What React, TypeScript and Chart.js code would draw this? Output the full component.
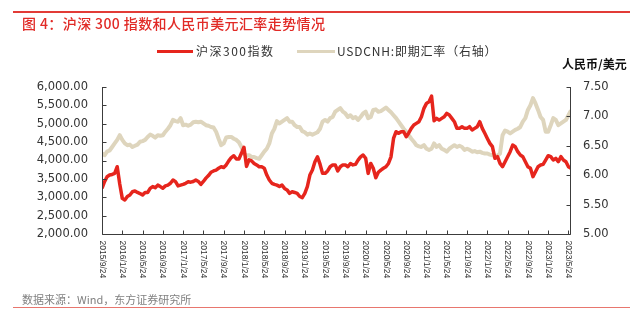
import React, { useEffect, useRef } from "react";
import { Chart, registerables } from "chart.js";
Chart.register(...registerables);

// x positions are months since 2015/9/24, one value every half month
const xTickLabels = [
  "2015/9/24", "2016/1/24", "2016/5/24", "2016/9/24", "2017/1/24", "2017/5/24",
  "2017/9/24", "2018/1/24", "2018/5/24", "2018/9/24", "2019/1/24", "2019/5/24",
  "2019/9/24", "2020/1/24", "2020/5/24", "2020/9/24", "2021/1/24", "2021/5/24",
  "2021/9/24", "2022/1/24", "2022/5/24", "2022/9/24", "2023/1/24", "2023/5/24",
];

const csi300 = [
  3243, 3424, 3560, 3605, 3620, 3650, 3830, 3360, 2970, 2925,
  3020, 3060, 3150, 3170, 3130, 3100, 3060, 3130, 3130, 3240,
  3290, 3260, 3330, 3290, 3245, 3310, 3330, 3380, 3470, 3424,
  3310, 3330, 3350, 3380, 3420, 3410, 3430, 3470, 3430, 3350,
  3430, 3520, 3590, 3680, 3715, 3740, 3790, 3830, 3810, 3880,
  3990, 4080, 4130, 4040, 4040, 4195, 4360, 3840, 4020, 3990,
  3920, 3880, 3830, 3830, 3790, 3605, 3470, 3380, 3350, 3330,
  3290, 3330, 3240, 3200, 3105, 3150, 3130, 3105, 3020, 2990,
  3105, 3290, 3605, 3740, 3965, 4100, 3900, 3650, 3650, 3715,
  3830, 3880, 3880, 3715, 3830, 3880, 3880, 3830, 3920, 3880,
  3895, 4010, 4100, 4150, 4060, 3650, 3920, 3790, 3530, 3680,
  3740, 3790, 3830, 3920, 4100, 4600, 4784, 4740, 4784, 4784,
  4648, 4750, 4875, 4966, 5011, 5056, 5192, 5419, 5555, 5600,
  5750, 5080, 5147, 5100, 5147, 5192, 5283, 5238, 5147, 5056,
  4875, 4875, 4920, 4875, 4875, 4920, 4830, 4875, 4920, 5056,
  4875, 4740, 4600, 4467, 4376, 4059, 4104, 3923, 3832, 3968,
  4104, 4240, 4421, 4376, 4240, 4150, 4104, 3968, 3832, 3787,
  3560, 3696, 3832, 3877, 3895, 4013, 4131, 4104, 4013, 4059,
  3968, 4104, 4013, 3968, 3832, 3787,
];

const usdcnh = [
  6.37, 6.34, 6.40, 6.42, 6.48, 6.54, 6.60, 6.68, 6.60, 6.54,
  6.51, 6.52, 6.48, 6.50, 6.52, 6.57, 6.58, 6.60, 6.65, 6.69,
  6.67, 6.64, 6.68, 6.67, 6.68, 6.74, 6.79, 6.85, 6.94, 6.92,
  6.91, 6.97, 6.85, 6.86, 6.84, 6.86, 6.90, 6.91, 6.90, 6.91,
  6.88, 6.85, 6.84, 6.82, 6.81, 6.74, 6.62, 6.51, 6.54, 6.64,
  6.65, 6.65, 6.62, 6.60, 6.56, 6.48, 6.37, 6.33, 6.34, 6.31,
  6.31, 6.29, 6.28, 6.34, 6.40, 6.45, 6.54, 6.71, 6.79, 6.92,
  6.88, 6.91, 6.94, 6.97, 6.91, 6.91, 6.85, 6.82, 6.82, 6.75,
  6.73, 6.69, 6.71, 6.69, 6.71, 6.73, 6.79, 6.91, 6.94, 6.91,
  6.97, 6.99, 7.08, 7.11, 7.14, 7.08, 7.05, 6.99, 7.02, 6.97,
  6.99, 6.94, 6.99, 7.05, 7.08, 6.97, 6.99, 7.11, 7.12, 7.08,
  7.09, 7.12, 7.15, 7.11, 7.07, 7.02, 6.97, 6.91, 6.85, 6.79,
  6.74, 6.68, 6.62, 6.57, 6.51, 6.49, 6.48, 6.51, 6.45, 6.43,
  6.45, 6.54, 6.48, 6.51, 6.45, 6.43, 6.40, 6.45, 6.48, 6.51,
  6.48, 6.50, 6.48, 6.43, 6.45, 6.43, 6.40, 6.41, 6.39, 6.40,
  6.38, 6.37, 6.37, 6.35, 6.34, 6.33, 6.33, 6.37, 6.68, 6.76,
  6.74, 6.71, 6.74, 6.77, 6.79, 6.82, 6.91, 6.97, 7.11, 7.19,
  7.31, 7.22, 7.11, 6.99, 6.94, 6.74, 6.74, 6.85, 6.97, 6.94,
  6.85, 6.88, 6.91, 6.94, 7.02, 7.10,
];

const seriesNames = ["沪深300指数", "USDCNH:即期汇率（右轴）"];
const titleText = "图 4：沪深 300 指数和人民币美元汇率走势情况";
const sourceText = "数据来源：Wind，东方证券研究所";
const rightUnit = "人民币/美元";

const RED = "#e6251d";
const TAN = "#ded5bd";
const AXIS = "#3c3c3c";

const axesPlugin = {
  id: "customAxes",
  afterDraw(chart: any) {
    const { ctx, chartArea } = chart;
    const xs = chart.scales.x;
    const yl = chart.scales.y;
    const yr = chart.scales.y1;
    const L = Math.round(chartArea.left) + 0.5;
    const R = Math.round(chartArea.right) - 0.5;
    const B = Math.round(chartArea.bottom) + 0.5;
    const T = Math.round(chartArea.top);
    ctx.save();
    ctx.strokeStyle = AXIS;
    ctx.lineWidth = 1;
    ctx.beginPath();
    ctx.moveTo(L, T);
    ctx.lineTo(L, B);
    ctx.lineTo(R, B);
    ctx.lineTo(R, T);
    yl.ticks.forEach((t: any) => {
      const y = Math.round(yl.getPixelForValue(t.value)) + 0.5;
      ctx.moveTo(L, y);
      ctx.lineTo(L + 4, y);
    });
    yr.ticks.forEach((t: any) => {
      const y = Math.round(yr.getPixelForValue(t.value)) + 0.5;
      ctx.moveTo(R, y);
      ctx.lineTo(R - 4, y);
    });
    xTickLabels.forEach((_, i) => {
      const x = Math.round(xs.getPixelForValue(i * 4)) + 0.5;
      ctx.moveTo(x, B);
      ctx.lineTo(x, B - 4);
    });
    ctx.stroke();

    ctx.fillStyle = "#333";
    ctx.font = '8.5px "Liberation Sans", Arial, sans-serif';
    ctx.textAlign = "left";
    ctx.textBaseline = "middle";
    xTickLabels.forEach((lab, i) => {
      const x = xs.getPixelForValue(i * 4);
      ctx.save();
      ctx.translate(x, B + 6);
      ctx.rotate(Math.PI / 2);
      ctx.fillText(lab, 0, 0);
      ctx.restore();
    });
    ctx.restore();
  },
};

export default function App() {
  const ref = useRef<HTMLCanvasElement | null>(null);
  useEffect(() => {
    if (!ref.current) return;
    const chart = new Chart(ref.current, {
      type: "line",
      data: {
        datasets: [
          {
            label: seriesNames[0],
            data: csi300.map((v, i) => ({ x: i * 0.5, y: v })),
            borderColor: RED,
            borderWidth: 3.5,
            pointRadius: 0,
            borderJoinStyle: "round",
            yAxisID: "y",
          },
          {
            label: seriesNames[1],
            data: usdcnh.map((v, i) => ({ x: i * 0.5, y: v })),
            borderColor: TAN,
            borderWidth: 4,
            pointRadius: 0,
            borderJoinStyle: "round",
            yAxisID: "y1",
          },
        ],
      },
      options: {
        responsive: false,
        animation: false,
        devicePixelRatio: 1,
        layout: { padding: { top: 87, left: 0, right: 0, bottom: 0 } },
        plugins: { legend: { display: false }, tooltip: { enabled: false } },
        scales: {
          x: {
            type: "linear",
            min: 0,
            max: 92.5,
            grid: { display: false, drawTicks: false },
            border: { display: false },
            ticks: { display: false },
            afterFit: (s: any) => { s.height = 92; },
          },
          y: {
            type: "linear",
            position: "left",
            min: 2000,
            max: 6000,
            grid: { display: false, drawTicks: false },
            border: { display: false },
            ticks: {
              stepSize: 500,
              padding: 14,
              color: "#333",
              font: { family: '"DejaVu Sans", sans-serif', size: 11.5 },
              callback: (v: any) =>
                Number(v).toLocaleString("en-US", { minimumFractionDigits: 2, maximumFractionDigits: 2 }),
            },
            afterFit: (s: any) => { s.width = 102; },
          },
          y1: {
            type: "linear",
            position: "right",
            min: 5,
            max: 7.5,
            grid: { display: false, drawTicks: false },
            border: { display: false },
            ticks: {
              stepSize: 0.5,
              padding: 12,
              color: "#333",
              font: { family: '"DejaVu Sans", sans-serif', size: 11.5 },
              callback: (v: any) => Number(v).toFixed(2),
            },
            afterFit: (s: any) => { s.width = 72; },
          },
        },
      },
      plugins: [axesPlugin],
    } as any);
    return () => chart.destroy();
  }, []);

  const cjk = '"Noto Sans CJK SC", "Liberation Sans", sans-serif';
  return (
    <div style={{ position: "absolute", left: 0, top: 0, width: 643, height: 326, background: "#fff", overflow: "hidden" }}>
      <canvas ref={ref} width={643} height={326} style={{ position: "absolute", left: 0, top: 0, width: 643, height: 326 }} />
      <div style={{ position: "absolute", left: 13, top: 11, width: 617, height: 1.5, background: "#e23b36" }} />
      <div style={{ position: "absolute", left: 22, top: 14, fontFamily: cjk, fontSize: 14, lineHeight: "18px", letterSpacing: 0.4, color: "#e12a26", fontWeight: 500, whiteSpace: "nowrap" }}>
        {titleText}
      </div>
      <div style={{ position: "absolute", left: 157, top: 49.5, width: 36, height: 3, background: RED }} />
      <div style={{ position: "absolute", left: 196, top: 43, fontFamily: cjk, fontSize: 12, lineHeight: "16px", letterSpacing: 1.5, color: "#333", whiteSpace: "nowrap" }}>
        {seriesNames[0]}
      </div>
      <div style={{ position: "absolute", left: 297, top: 49.5, width: 38, height: 3, background: TAN }} />
      <div style={{ position: "absolute", left: 337, top: 43, fontFamily: cjk, fontSize: 12, lineHeight: "16px", letterSpacing: 0.8, color: "#333", whiteSpace: "nowrap" }}>
        {seriesNames[1]}
      </div>
      <div style={{ position: "absolute", left: 562, top: 56, fontFamily: cjk, fontSize: 12, lineHeight: "16px", fontWeight: 700, color: "#111", whiteSpace: "nowrap" }}>
        {rightUnit}
      </div>
      <div style={{ position: "absolute", left: 22, top: 291, fontFamily: cjk, fontSize: 11, lineHeight: "16px", color: "#808080", whiteSpace: "nowrap" }}>
        {sourceText}
      </div>
      <div style={{ position: "absolute", left: 13, top: 307, width: 617, height: 1, background: "#e8766e" }} />
    </div>
  );
}
